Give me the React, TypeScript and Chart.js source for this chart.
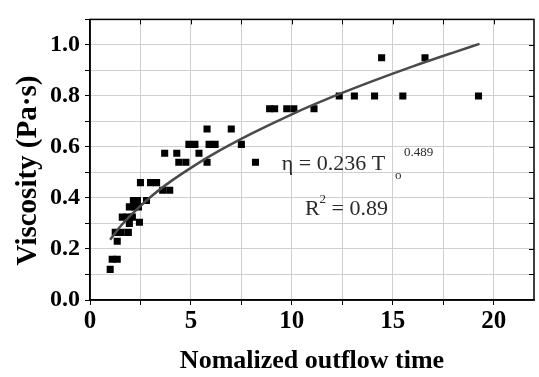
import { useEffect, useRef } from "react";
import { Chart, registerables } from "chart.js";

Chart.register(...registerables);

// Measured data points (Normalized outflow time vs viscosity)
const xValues = [
  1.0, 1.1, 1.35, 1.35, 1.25, 1.55, 1.9, 1.6, 1.85, 2.1, 1.95, 2.45,
  1.95, 2.2, 2.4, 2.15, 2.35, 2.8, 2.5, 3.0, 3.3, 3.6, 3.95,
  3.7, 4.3, 5.4, 4.4, 4.75, 5.8, 8.2, 4.9, 5.2, 5.9, 6.2, 7.5,
  5.8, 7.0, 8.9, 9.15, 9.75, 10.1, 11.1, 12.35, 13.1, 14.1, 15.5, 19.25,
  14.45, 16.6,
];
const yValues = [
  0.12, 0.16, 0.16, 0.23, 0.265, 0.265, 0.265, 0.325, 0.325, 0.325, 0.3, 0.305,
  0.365, 0.365, 0.365, 0.39, 0.39, 0.39, 0.46, 0.46, 0.46, 0.43, 0.43,
  0.575, 0.575, 0.575, 0.54, 0.54, 0.54, 0.54, 0.61, 0.61, 0.61, 0.61, 0.61,
  0.67, 0.67, 0.75, 0.75, 0.75, 0.75, 0.75, 0.8, 0.8, 0.8, 0.8, 0.8,
  0.95, 0.95,
];

// Fitted power-law curve
const fitX = [1, 1.5, 2, 3, 4, 5, 6, 8, 10, 12, 14, 16, 18, 19.3];
const fitY = [0.236, 0.288, 0.331, 0.404, 0.465, 0.518, 0.567, 0.652, 0.728, 0.796, 0.858, 0.916, 0.97, 1.004];

const xLabeled = [0, 5, 10, 15, 20];
const yLabeled = [0, 0.2, 0.4, 0.6, 0.8, 1.0];

const xTitle = "Nomalized outflow time";
const yTitle = "Viscosity (Pa·s)";
const eqMain = "η = 0.236 T";
const eqSub = "o";
const eqSup = "0.489";
const r2Main = "R";
const r2Sup = "2";
const r2Rest = " = 0.89";

const eqAnchor = { x: 9.5, y: 0.51 };
const r2Anchor = { x: 10.65, y: 0.335 };

const SERIF = "'Liberation Serif', 'Times New Roman', serif";

const framePlugin = {
  id: "frameAndNotes",
  afterDraw(chart: any) {
    const { ctx, chartArea: a, scales } = chart;
    const xs = scales.x;
    const ys = scales.y;
    ctx.save();
    ctx.strokeStyle = "#000";
    ctx.lineWidth = 1;
    ctx.beginPath();
    xs.ticks.forEach((t: any) => {
      const px = Math.round(xs.getPixelForValue(t.value)) + 0.5;
      if (px > a.left + 2 && px < a.right - 2) {
        ctx.moveTo(px, a.top);
        ctx.lineTo(px, a.top + 5);
      }
    });
    ys.ticks.forEach((t: any) => {
      const py = Math.round(ys.getPixelForValue(t.value)) + 0.5;
      if (py > a.top + 2 && py < a.bottom - 2) {
        ctx.moveTo(a.right, py);
        ctx.lineTo(a.right - 5, py);
      }
    });
    ctx.stroke();
    ctx.lineWidth = 1.5;
    ctx.strokeRect(a.left, a.top, a.right - a.left, a.bottom - a.top);

    // equation annotation
    ctx.fillStyle = "#2a2a2a";
    ctx.textBaseline = "alphabetic";
    ctx.textAlign = "left";
    const ex = xs.getPixelForValue(eqAnchor.x);
    const ey = ys.getPixelForValue(eqAnchor.y);
    ctx.font = `22px ${SERIF}`;
    ctx.fillText(eqMain, ex, ey);
    const w1 = ctx.measureText(eqMain).width;
    ctx.font = `13px ${SERIF}`;
    ctx.fillText(eqSub, ex + w1 + 10, ey + 9);
    ctx.fillText(eqSup, ex + w1 + 19, ey - 14);

    const rx = xs.getPixelForValue(r2Anchor.x);
    const ry = ys.getPixelForValue(r2Anchor.y);
    ctx.font = `22px ${SERIF}`;
    ctx.fillText(r2Main, rx, ry);
    const wr = ctx.measureText(r2Main).width;
    ctx.font = `13px ${SERIF}`;
    ctx.fillText(r2Sup, rx + wr, ry - 12);
    const ws = ctx.measureText(r2Sup).width;
    ctx.font = `22px ${SERIF}`;
    ctx.fillText(r2Rest, rx + wr + ws, ry);
    ctx.restore();
  },
};

export default function App() {
  const ref = useRef<HTMLCanvasElement | null>(null);

  useEffect(() => {
    if (!ref.current) return;
    const chart = new Chart(ref.current, {
      type: "scatter",
      data: {
        datasets: [
          {
            type: "line",
            data: fitX.map((x, i) => ({ x, y: fitY[i] })),
            borderColor: "#4a4a4a",
            borderWidth: 2.5,
            pointRadius: 0,
            fill: false,
            cubicInterpolationMode: "monotone",
          } as any,
          {
            data: xValues.map((x, i) => ({ x, y: yValues[i] })),
            pointStyle: "rect",
            pointRadius: 5,
            backgroundColor: "#000",
            borderWidth: 0,
          },
        ],
      },
      options: {
        responsive: false,
        animation: false,
        devicePixelRatio: 1,
        layout: { padding: { top: 6, right: 1, left: 0, bottom: 0 } },
        plugins: { legend: { display: false }, tooltip: { enabled: false } },
        scales: {
          x: {
            type: "linear",
            min: 0,
            max: 22,
            afterFit: (s: any) => {
              s.height = 77;
            },
            grid: { color: "#cfcfcf", lineWidth: 1, tickLength: 5, tickColor: "#000" },
            border: { display: true, color: "#000", width: 1.5 },
            ticks: {
              stepSize: 2.5,
              includeBounds: false,
              autoSkip: false,
              maxRotation: 0,
              padding: 2,
              color: "#000",
              font: { family: SERIF, size: 25, weight: "bold" },
              callback: (v: any) => {
                const n = Number(v);
                return xLabeled.some((l) => Math.abs(l - n) < 1e-6) ? String(n) : "";
              },
            },
            title: {
              display: true,
              text: xTitle,
              color: "#000",
              padding: { top: 0, bottom: 0 },
              font: { family: SERIF, size: 26, weight: "bold" },
            },
          },
          y: {
            type: "linear",
            min: 0,
            max: 1.1,
            afterFit: (s: any) => {
              s.width = 90;
            },
            grid: { color: "#cfcfcf", lineWidth: 1, tickLength: 5, tickColor: "#000" },
            border: { display: true, color: "#000", width: 1.5 },
            ticks: {
              stepSize: 0.1,
              includeBounds: false,
              autoSkip: false,
              padding: 5,
              color: "#000",
              font: { family: SERIF, size: 24, weight: "bold" },
              callback: (v: any) => {
                const n = Number(v);
                return yLabeled.some((l) => Math.abs(l - n) < 1e-6) ? n.toFixed(1) : "";
              },
            },
            title: {
              display: true,
              text: yTitle + "   ",
              color: "#000",
              padding: { top: 11, bottom: 0 },
              font: { family: SERIF, size: 29, weight: "bold" },
            },
          },
        },
      },
      plugins: [framePlugin],
    });
    return () => chart.destroy();
  }, []);

  return (
    <div style={{ position: "fixed", left: 0, top: 0, width: 539, height: 377, background: "#fff" }}>
      <canvas ref={ref} width={539} height={377} />
    </div>
  );
}
